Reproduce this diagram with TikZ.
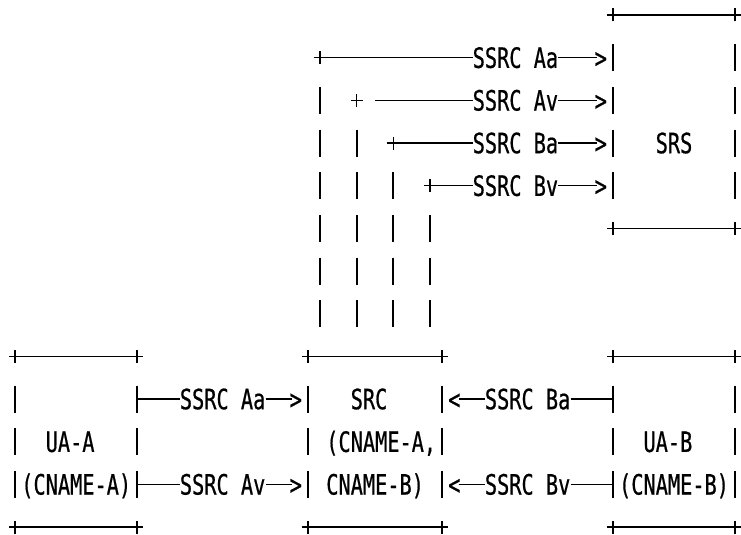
\documentclass[tikz,border=0pt]{standalone}
\usepackage{fontspec}
\newfontfamily\gridfont[FakeStretch=0.724,FakeBold=0.6]{DejaVu Sans Mono}
\newcommand\vb[2]{\draw[vbar] (#1,#2) ++(0,13.5pt) -- ++(0,-27pt);}
\newcommand\pl[3]{\coordinate (#3) at (#1,#2); \draw[cross] (#3) ++(-6pt,0) -- ++(12pt,0) (#3) ++(0,-6.5pt) -- ++(0,13pt);}
\begin{document}
\begin{tikzpicture}[
  lbl/.style={font=\gridfont\fontsize{28}{28}\selectfont, inner sep=0pt, text height=20.4pt, text depth=0pt, anchor=west},
  hline/.style={line width=1.3pt},
  vbar/.style={line width=2pt},
  cross/.style={line width=1.4pt}]
\fill[white] (0,0) rectangle (741pt,-535pt);
\useasboundingbox (0,0) rectangle (741pt,-535pt);
\begin{scope}[shift={(15pt,-15pt)}, x=12.2pt, y=-42.67pt]
% ---- SRS box
\pl{49}{0}{srsTL} \pl{59}{0}{srsTR} \draw[hline] (srsTL) -- (srsTR);
\pl{49}{5}{srsBL} \pl{59}{5}{srsBR} \draw[hline] (srsBL) -- (srsBR);
\foreach \r in {1,2,3,4} {\vb{49}{\r} \vb{59}{\r}}
\node[lbl] (srs) at (52.5,3) {SRS};
% ---- streams to SRS
\pl{25}{1}{jAa}
\node[lbl] (tAa) at (37.5,1) {SSRC Aa};
\node[lbl] (gAa) at (47.5,1) {>};
\draw[hline] (jAa) -- (tAa.west);
\draw[hline] (tAa.east) -- ([xshift=2pt]gAa.west);
\pl{28}{2}{jAv}
\coordinate (sAv) at (29.5,2);
\node[lbl] (tAv) at (37.5,2) {SSRC Av};
\node[lbl] (gAv) at (47.5,2) {>};
\draw[hline] (sAv) -- (tAv.west);
\draw[hline] (tAv.east) -- ([xshift=2pt]gAv.west);
\pl{31}{3}{jBa}
\node[lbl] (tBa) at (37.5,3) {SSRC Ba};
\node[lbl] (gBa) at (47.5,3) {>};
\draw[hline] (jBa) -- (tBa.west);
\draw[hline] (tBa.east) -- ([xshift=2pt]gBa.west);
\pl{34}{4}{jBv}
\node[lbl] (tBv) at (37.5,4) {SSRC Bv};
\node[lbl] (gBv) at (47.5,4) {>};
\draw[hline] (jBv) -- (tBv.west);
\draw[hline] (tBv.east) -- ([xshift=2pt]gBv.west);
\foreach \r in {2,...,7} {\vb{25}{\r}}
\foreach \r in {3,...,7} {\vb{28}{\r}}
\foreach \r in {4,...,7} {\vb{31}{\r}}
\foreach \r in {5,6,7} {\vb{34}{\r}}
% ---- UA-A box
\pl{0}{8}{aTL} \pl{10}{8}{aTR} \draw[hline] (aTL) -- (aTR);
\pl{0}{12}{aBL} \pl{10}{12}{aBR} \draw[hline] (aBL) -- (aBR);
\foreach \r in {9,10,11} {\vb{0}{\r} \vb{10}{\r}}
\node[lbl] (uaa) at (2.5,10) {UA-A};
\node[lbl] (cna) at (0.5,11) {(CNAME-A)};
% ---- SRC box
\pl{24}{8}{cTL} \pl{35}{8}{cTR} \draw[hline] (cTL) -- (cTR);
\pl{24}{12}{cBL} \pl{35}{12}{cBR} \draw[hline] (cBL) -- (cBR);
\foreach \r in {9,10,11} {\vb{24}{\r} \vb{35}{\r}}
\node[lbl] (src) at (27.5,9) {SRC};
\node[lbl] (src2) at (25.5,10) {(CNAME-A,};
\node[lbl] (src3) at (25.5,11) {CNAME-B)};
% ---- UA-B box
\pl{49}{8}{bTL} \pl{59}{8}{bTR} \draw[hline] (bTL) -- (bTR);
\pl{49}{12}{bBL} \pl{59}{12}{bBR} \draw[hline] (bBL) -- (bBR);
\foreach \r in {9,10,11} {\vb{49}{\r} \vb{59}{\r}}
\node[lbl] (uab) at (51.5,10) {UA-B};
\node[lbl] (cnb) at (49.5,11) {(CNAME-B)};
% ---- streams UA-A -> SRC
\coordinate (ua9) at (10,9);
\node[lbl] (xAa) at (13.5,9) {SSRC Aa};
\node[lbl] (hAa) at (22.5,9) {>};
\draw[hline] (ua9) -- (xAa.west);
\draw[hline] (xAa.east) -- ([xshift=2pt]hAa.west);
\coordinate (ua11) at (10,11);
\node[lbl] (xAv) at (13.5,11) {SSRC Av};
\node[lbl] (hAv) at (22.5,11) {>};
\draw[hline] (ua11) -- (xAv.west);
\draw[hline] (xAv.east) -- ([xshift=2pt]hAv.west);
% ---- streams UA-B -> SRC
\coordinate (ub9) at (49,9);
\node[lbl] (hBa) at (35.5,9) {<};
\node[lbl] (xBa) at (38.5,9) {SSRC Ba};
\draw[hline] ([xshift=-2pt]hBa.east) -- (xBa.west);
\draw[hline] (xBa.east) -- (ub9);
\coordinate (ub11) at (49,11);
\node[lbl] (hBv) at (35.5,11) {<};
\node[lbl] (xBv) at (38.5,11) {SSRC Bv};
\draw[hline] ([xshift=-2pt]hBv.east) -- (xBv.west);
\draw[hline] (xBv.east) -- (ub11);
\end{scope}
\end{tikzpicture}
\end{document}
